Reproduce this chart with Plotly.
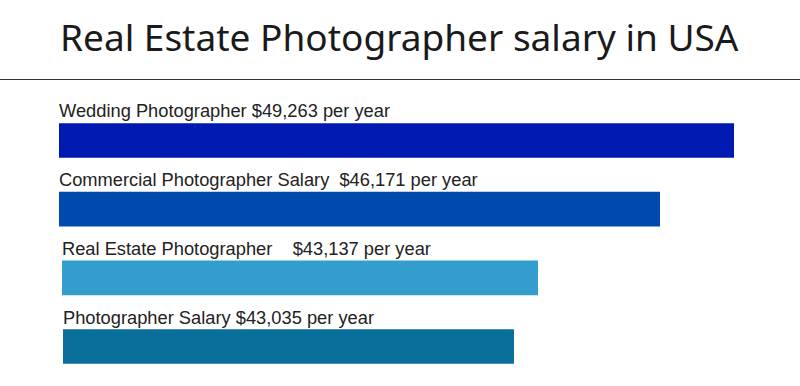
import plotly.graph_objects as go

# Data
categories = ["Wedding Photographer", "Commercial Photographer Salary", "Real Estate Photographer", "Photographer Salary"]
salaries = ["$49,263", "$46,171", "$43,137", "$43,035"]
label_texts = [
    "Wedding Photographer $49,263 per year",
    "Commercial Photographer Salary  $46,171 per year",
    "Real Estate Photographer    $43,137 per year",
    "Photographer Salary $43,035 per year",
]
bar_lengths = [675, 601, 476, 451]  # drawn bar lengths (not proportional in the original)

# Styling / layout
bar_offsets = [59, 59, 62, 63]
bar_colors = ["#0019B0", "#004AAE", "#339ECD", "#0B6F9C"]
W, H = 800, 386

fig = go.Figure()
fig.add_trace(go.Bar(
    y=categories, x=bar_lengths, base=bar_offsets, orientation="h",
    marker=dict(color=bar_colors, line=dict(width=0)),
    width=0.505, hoverinfo="skip",
))

for cat, txt, off in zip(categories, label_texts, bar_offsets):
    fig.add_annotation(
        x=off, y=cat, xref="x", yref="y", text=txt, showarrow=False,
        xanchor="left", yanchor="bottom", yshift=17, xshift=-2,
        font=dict(family="Liberation Sans, Arial, sans-serif", size=18.3, color="#222222"),
    )

fig.add_annotation(
    x=399 / W, y=1 - 36 / H, xref="paper", yref="paper",
    text="Real Estate Photographer salary in USA", showarrow=False,
    xanchor="center", yanchor="middle",
    font=dict(family="Noto Sans, Open Sans, sans-serif", size=37, color="#1a1a1a"),
)
fig.add_shape(type="line", xref="paper", yref="paper", x0=0, x1=1,
              y0=1 - 79.5 / H, y1=1 - 79.5 / H, line=dict(color="#333333", width=1))

fig.update_layout(
    width=W, height=H, margin=dict(l=0, r=0, t=0, b=0),
    paper_bgcolor="white", plot_bgcolor="white", showlegend=False,
    xaxis=dict(range=[0, W], visible=False, fixedrange=True),
    yaxis=dict(type="category", categoryarray=categories, range=[3.575, -2.046],
               visible=False, fixedrange=True),
)
fig.write_html("out.html", config={"displayModeBar": False},
               post_script="document.body.style.margin='0';")
